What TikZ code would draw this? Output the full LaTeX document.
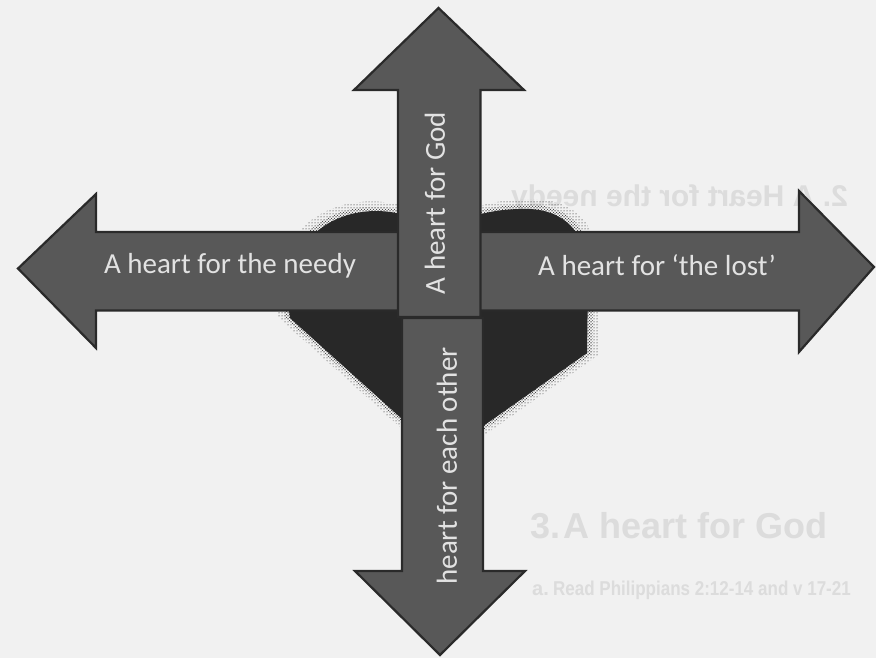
\documentclass[tikz,border=0pt]{standalone}
\usepackage{fontspec}
\setmainfont{Carlito}
\newfontfamily\ghostfont{Liberation Sans}
\usetikzlibrary{patterns}
\definecolor{paper}{HTML}{F1F1F1}
\definecolor{ghost}{HTML}{DCDCDC}
\definecolor{arrowfill}{HTML}{585858}
\definecolor{arrowedge}{HTML}{2A2A2A}
\definecolor{heartfill}{HTML}{282828}
\definecolor{labeltext}{HTML}{E2E2E2}
\begin{document}
\begin{tikzpicture}[x=1pt,y=-1pt,
  arrowshape/.style={fill=arrowfill, draw=arrowedge, line width=2.2pt, line join=miter},
  arrowlabel/.style={text=labeltext, font=\fontsize{29}{34}\selectfont, inner sep=0pt},
  ghosthead/.style={text=ghost, font=\ghostfont\bfseries\fontsize{36}{40}\selectfont, anchor=base west, inner sep=0pt},
  ghostmirror/.style={text=ghost, font=\ghostfont\bfseries\fontsize{30}{34}\selectfont, anchor=base west, inner sep=0pt, xscale=-1},
  ghostbody/.style={text=ghost, font=\ghostfont\bfseries\fontsize{20}{24}\selectfont, anchor=base west, inner sep=0pt}]
\useasboundingbox (0,0) rectangle (876,658);
\fill[paper] (0,0) rectangle (876,658);

% faint text of the page (one line shows through from the back, mirrored)
\node[ghostmirror] (g2) at (848,207) {2.\ A Heart for the needy};
\node[ghosthead] (g3n) at (530,538) {3.};
\node[ghosthead] (g3) at (563,538) {A heart for God};
\node[ghostbody] (gan) at (532,595) {a.};
\node[ghostbody, xscale=0.85, anchor=base west] (ga) at (553,595) {Read Philippians 2:12-14 and v 17-21};

% heart behind the arrows: halftone fringe, then body
\begin{scope}[shift={(440,330)}, scale=1.08, shift={(-440,-330)}]
\fill[pattern=dots, pattern color=black]
  (442,455) -- (290,318) .. controls (280,255) and (318,212) .. (375,211)
  .. controls (408,211) and (430,224) .. (440,238)
  .. controls (455,218) and (490,208) .. (530,209)
  .. controls (570,211) and (590,240) .. (588,282) -- (587,353) -- cycle;
\end{scope}
\begin{scope}[shift={(440,330)}, scale=1.035, shift={(-440,-330)}]
\fill[pattern=crosshatch dots, pattern color=black!85]
  (442,455) -- (290,318) .. controls (280,255) and (318,212) .. (375,211)
  .. controls (408,211) and (430,224) .. (440,238)
  .. controls (455,218) and (490,208) .. (530,209)
  .. controls (570,211) and (590,240) .. (588,282) -- (587,353) -- cycle;
\end{scope}
\fill[heartfill]
  (442,455) -- (290,318) .. controls (280,255) and (318,212) .. (375,211)
  .. controls (408,211) and (430,224) .. (440,238)
  .. controls (455,218) and (490,208) .. (530,209)
  .. controls (570,211) and (590,240) .. (588,282) -- (587,353) -- cycle;

% arrows
\draw[arrowshape] (402,232) -- (96,232) -- (96,194) -- (18,268.5) -- (96,348) -- (96,310.5) -- (402,310.5) -- cycle;
\draw[arrowshape] (478,232) -- (799,232) -- (799,191) -- (874,267) -- (799,352) -- (799,310.5) -- (478,310.5) -- cycle;
\draw[arrowshape] (402,318) -- (402,571) -- (355,571) -- (440,655) -- (525,571) -- (483,571) -- (483,318) -- cycle;
\draw[arrowshape] (398,317) -- (398,90) -- (354,90) -- (438.5,8) -- (524,90) -- (480.5,90) -- (480.5,317) -- cycle;

% labels
\node[arrowlabel] (needy) at (230,266) {A heart for the needy};
\node[arrowlabel] (lost) at (657,265) {A heart for ‘the lost’};
\node[arrowlabel, rotate=90] (god) at (435,203) {A heart for God};
\node[arrowlabel, rotate=90] (other) at (447,466) {heart for each other};
\end{tikzpicture}
\end{document}
